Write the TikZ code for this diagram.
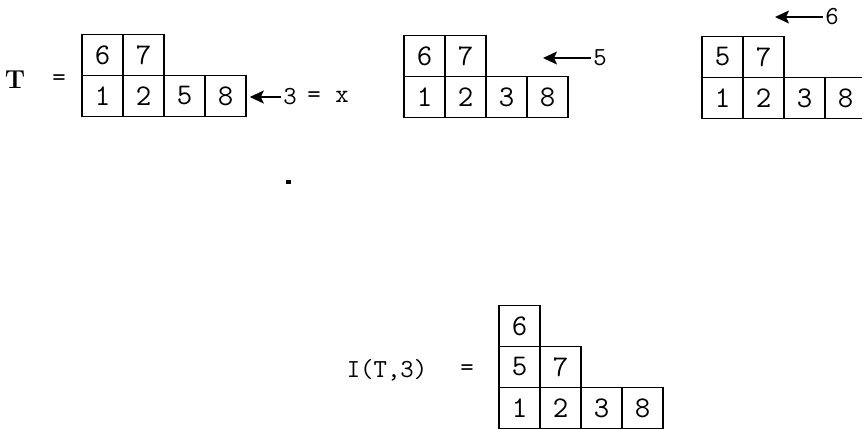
\documentclass[tikz,border=0pt]{standalone}
\usepackage{fontspec}
\usetikzlibrary{arrows.meta}
\tikzset{
  tabcell/.style={draw=black,line width=0.8pt,minimum width=20.5pt,minimum height=20.5pt,
    inner sep=0pt,font=\ttfamily\fontsize{15}{17}\selectfont},
  tablabel/.style={inner sep=1pt,font=\ttfamily\fontsize{13}{15}\selectfont},
  insarrow/.style={-{Stealth[length=7pt,width=6.5pt,inset=1.5pt]},line width=0.8pt}
}
\begin{document}
\begin{tikzpicture}[x=0.5pt,y=-0.5pt]
  \useasboundingbox (0,0) rectangle (862,430);
  \clip (0,0) rectangle (862,430);
  % T = ...
  \node[tablabel,font=\rmfamily\bfseries\fontsize{13}{15}\selectfont] (tname) at (15,80) {T};
  \node[tablabel] (teq) at (59,80) {=};
  \foreach \v/\x [count=\i] in {1/102.5,2/143.5,5/184.5,8/225.5}
    \node[tabcell] (a\i) at (\x,96) {\v};
  \node[tabcell] (a5) at (102.5,55) {6};
  \node[tabcell] (a6) at (143.5,55) {7};
  \node[tablabel] (ins3) at (290,97) {3};
  \node[tablabel] (inseq) at (314,97) {=};
  \node[tablabel] (insx) at (342,97) {x};
  \draw[insarrow,shorten >=1.5pt] (ins3.west) -- (ins3.west -| a4.east);
  % first bump
  \foreach \v/\x [count=\i] in {1/424.5,2/465.5,3/506.5,8/547.5}
    \node[tabcell] (b\i) at (\x,97) {\v};
  \node[tabcell] (b5) at (424.5,56) {6};
  \node[tabcell] (b6) at (465.5,56) {7};
  \node[tablabel] (ins5) at (600,58) {5};
  \coordinate (tip5) at (543,58);
  \draw[insarrow] (ins5.west) -- (tip5);
  % second bump
  \foreach \v/\x [count=\i] in {1/722.5,2/763.5,3/804.5,8/845.5}
    \node[tabcell] (c\i) at (\x,98) {\v};
  \node[tabcell] (c5) at (722.5,57) {5};
  \node[tabcell] (c6) at (763.5,57) {7};
  \node[tablabel] (ins6) at (832,17) {6};
  \coordinate (tip6) at (775,17);
  \draw[insarrow] (ins6.west) -- (tip6);
  % stray mark
  \fill (286,180) rectangle (291,184);
  % result
  \node[tablabel] (iname) at (387,370) {I(T,3)};
  \node[tablabel] (ieq) at (467,370) {=};
  \foreach \v/\x [count=\i] in {1/519.5,2/560.5,3/601.5,8/642.5}
    \node[tabcell] (d\i) at (\x,408) {\v};
  \node[tabcell] (d5) at (519.5,367) {5};
  \node[tabcell] (d6) at (560.5,367) {7};
  \node[tabcell] (d7) at (519.5,326) {6};
\end{tikzpicture}
\end{document}
